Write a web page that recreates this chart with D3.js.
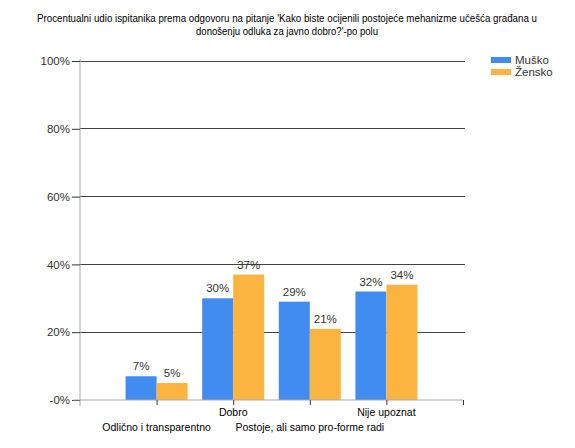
<!DOCTYPE html>
<html><head><meta charset="utf-8">
<script src="https://cdn.jsdelivr.net/npm/d3@7"></script>
<style>body{margin:0;background:#fff}svg{display:block;font-family:"Liberation Sans",Arial,sans-serif}</style>
</head><body><svg id="c" width="575" height="448"></svg>
<script>
const categories = ["Odlično i transparentno","Dobro","Postoje, ali samo pro-forme radi","Nije upoznat"];
const series = ["Muško","Žensko"];
const musko = [7,30,29,32];
const zensko = [5,37,21,34];
const yTicks = [0,20,40,60,80,100];
const yTickLabels = ["-0%","20%","40%","60%","80%","100%"];
const colors = ["#418CF0","#FCB441"];
const titleLines = ["Procentualni udio ispitanika prema odgovoru na pitanje 'Kako biste ocijenili postojeće mehanizme učešća građana u","donošenju odluka za javno dobro?'-po polu"];

const svg = d3.select("#c");
const L=80, R=463, T=61, B=400;
const x = d3.scaleLinear().domain([0,5]).range([L,R]);
const y = d3.scaleLinear().domain([0,100]).range([B,T]);
const bw = 31;

svg.append("g").selectAll("text").data(titleLines).join("text")
  .attr("x",287).attr("y",(d,i)=>22+i*13).attr("text-anchor","middle")
  .attr("font-size",10.5).attr("fill","#000")
  .attr("textLength",(d,i)=>i===0?500:182).attr("lengthAdjust","spacingAndGlyphs")
  .text(d=>d);

// gridlines
svg.append("g").selectAll("line").data(yTicks.filter(d=>d>0)).join("line")
  .attr("x1",L).attr("x2",R+2).attr("y1",d=>y(d)).attr("y2",d=>y(d))
  .attr("stroke","#444").attr("stroke-width",1).attr("shape-rendering","crispEdges");

// y axis
const yAxis = d3.axisLeft(y).tickValues(yTicks).tickFormat((d,i)=>yTickLabels[i]).tickSize(8).tickPadding(2);
const gy = svg.append("g").attr("transform",`translate(${L},0)`).call(yAxis);
gy.select(".domain").attr("stroke","#aaa").attr("d",`M0,${T-2}V${B+6}`);
gy.selectAll(".tick line").attr("stroke","#333");
gy.selectAll("text").attr("font-size",11.5).attr("fill","#333").attr("font-family","Liberation Sans, Arial, sans-serif");

// bars
const data = categories.map((c,i)=>({c,i,vals:[musko[i],zensko[i]]}));
const g = svg.append("g");
data.forEach(d=>{
  d.vals.forEach((v,s)=>{
    const cx = x(d.i+1);
    const x0 = s===0? cx-bw : cx;
    g.append("rect").attr("x",x0).attr("y",y(v)).attr("width",bw).attr("height",y(0)-y(v))
      .attr("fill",colors[s]);
    g.append("text").attr("x",x0+bw/2).attr("y",y(v)-6).attr("text-anchor","middle")
      .attr("font-size",11.5).attr("fill","#333").text(v+"%");
  });
});

// x axis
const xAxis = d3.axisBottom(x).tickValues([0,1,2,3,4,5]).tickFormat("").tickSize(5);
const gx = svg.append("g").attr("transform",`translate(0,${B})`).call(xAxis);
gx.select(".domain").attr("stroke","#aaa").attr("d",`M${L-7},0H${R}`);
gx.selectAll(".tick line").attr("stroke","#333");
gx.selectAll(".tick").filter(d=>d===0).remove();

svg.append("g").selectAll("text").data(categories).join("text")
  .attr("x",(d,i)=>x(i+1)).attr("y",(d,i)=>i%2===0?431:416)
  .attr("text-anchor","middle").attr("font-size",10.5).attr("fill","#000").text(d=>d);

// legend
const lg = svg.append("g");
series.forEach((s,i)=>{
  lg.append("rect").attr("x",491).attr("y",57+i*12).attr("width",20).attr("height",6).attr("fill",colors[i]);
  lg.append("text").attr("x",515).attr("y",64+i*12).attr("font-size",11.5).attr("fill","#333").text(s);
});
</script></body></html>
